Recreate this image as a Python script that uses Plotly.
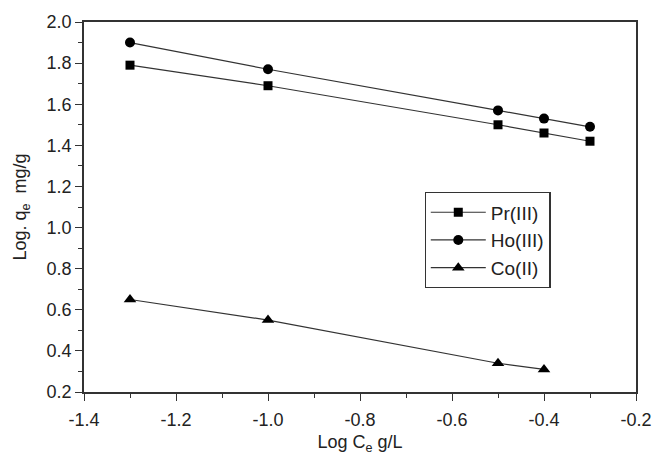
import plotly.graph_objects as go

x_pr = [-1.3, -1.0, -0.5, -0.4, -0.3]
y_pr = [1.79, 1.69, 1.50, 1.46, 1.42]
x_ho = [-1.3, -1.0, -0.5, -0.4, -0.3]
y_ho = [1.90, 1.77, 1.57, 1.53, 1.49]
x_co = [-1.3, -1.0, -0.5, -0.4]
y_co = [0.65, 0.55, 0.34, 0.31]

x_ticks = [-1.4, -1.2, -1.0, -0.8, -0.6, -0.4, -0.2]
x_ticklabels = ["-1.4", "-1.2", "-1.0", "-0.8", "-0.6", "-0.4", "-0.2"]
y_ticks = [0.2, 0.4, 0.6, 0.8, 1.0, 1.2, 1.4, 1.6, 1.8, 2.0]
y_ticklabels = ["0.2", "0.4", "0.6", "0.8", "1.0", "1.2", "1.4", "1.6", "1.8", "2.0"]

line_color = "#333333"
fig = go.Figure()
for name, xs, ys, sym, sz in [("Pr(III)", x_pr, y_pr, "square", 9),
                              ("Ho(III)", x_ho, y_ho, "circle", 10),
                              ("Co(II)", x_co, y_co, "triangle-up", 11)]:
    fig.add_trace(go.Scatter(x=xs, y=ys, mode="lines+markers", name=name,
                             line=dict(color=line_color, width=1.2),
                             marker=dict(symbol=sym, size=sz, color="black")))

font = dict(family="Liberation Sans", size=18, color="#222")
axis_common = dict(showline=True, linecolor="#333", linewidth=1.5, mirror=True,
                   ticks="outside", ticklen=7, tickwidth=1.2, tickcolor="#333",
                   showgrid=False, zeroline=False, tickfont=font, automargin=False,
                   tickmode="array",
                   minor=dict(ticks="outside", ticklen=4, tickwidth=1.2, tickcolor="#333",
                              dtick=0.1, tickmode="linear"))

fig.update_layout(
    width=655, height=455,
    margin=dict(l=84, r=19, t=22, b=63),
    paper_bgcolor="white", plot_bgcolor="white",
    font=font,
    showlegend=True,
    legend=dict(x=0.617, y=0.54, xanchor="left", yanchor="top",
                bordercolor="#333", borderwidth=1.2, bgcolor="white",
                font=dict(family="Liberation Sans", size=19, color="#222"),
                tracegroupgap=0, itemwidth=55),
    xaxis=dict(range=[-1.4, -0.2], tickvals=x_ticks, ticktext=x_ticklabels,
               ticklabelstandoff=4,
               title=dict(text="Log C<sub>e</sub> g/L", font=font, standoff=15),
               **axis_common),
    yaxis=dict(range=[0.2, 2.0], tickvals=y_ticks, ticktext=y_ticklabels,
               title=dict(text="Log. q<sub>e</sub>  mg/g", font=font, standoff=15),
               **axis_common),
)
fig.update_xaxes(minor_tick0=-1.4)
fig.update_yaxes(minor_tick0=0.2)
fig.write_html("out.html", config={"displayModeBar": False},
               post_script="document.body.style.margin='0';")
